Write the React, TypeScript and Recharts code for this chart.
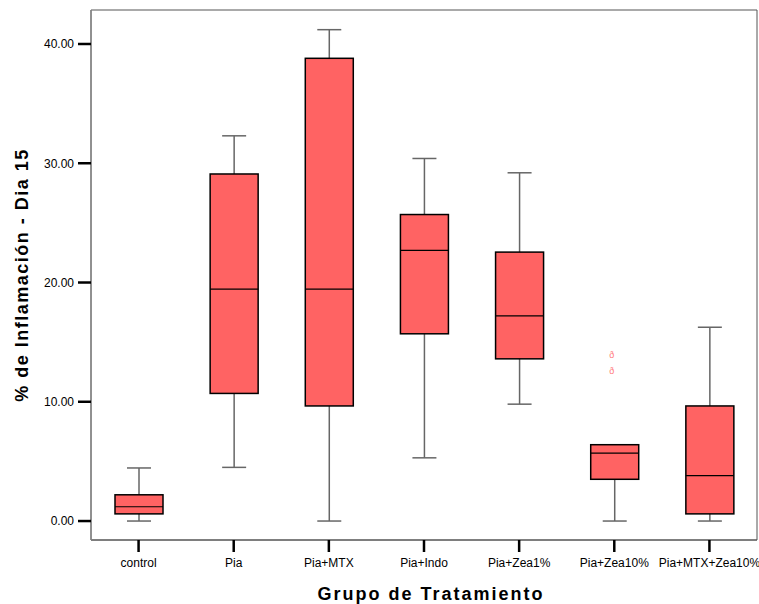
import React from 'react';
import { ComposedChart, Bar, XAxis, YAxis, ReferenceArea } from 'recharts';

const groups = ['control', 'Pia', 'Pia+MTX', 'Pia+Indo', 'Pia+Zea1%', 'Pia+Zea10%', 'Pia+MTX+Zea10%'];
const mins = [0, 4.5, 0, 5.3, 9.8, 0, 0];
const q1s = [0.6, 10.7, 9.65, 15.7, 13.6, 3.5, 0.6];
const medians = [1.2, 19.45, 19.45, 22.7, 17.2, 5.7, 3.8];
const q3s = [2.2, 29.1, 38.8, 25.7, 22.55, 6.4, 9.65];
const maxs = [4.45, 32.3, 41.2, 30.4, 29.2, 6.4, 16.25];
const outlierGroups = ['Pia+Zea10%', 'Pia+Zea10%'];
const outlierValues = [13.9, 12.6];
const yTicks = [0, 10, 20, 30, 40];
const yDomain = [-1.59, 42.85];

const data = groups.map((g, i) => ({
  grp: g,
  min: mins[i],
  q1: q1s[i],
  median: medians[i],
  q3: q3s[i],
  max: maxs[i],
  outliers: outlierValues.filter((_, j) => outlierGroups[j] === g),
}));

const FILL = '#FF6363';
const WHISKER = '#666666';

const BoxShape = (props: any) => {
  const { x, y, width, height, payload } = props;
  const { min, q1, median, q3, max, outliers } = payload;
  const k = height / (max - min);
  const toY = (v: number) => y + (max - v) * k;
  const cx = x + width / 2;
  const capW = 24;
  const yMin = toY(min);
  const yMax = toY(max);
  const yQ1 = toY(q1);
  const yQ3 = toY(q3);
  const yMed = toY(median);
  return (
    <g>
      <line x1={cx} x2={cx} y1={yMax} y2={yQ3} stroke={WHISKER} strokeWidth={1.5} />
      <line x1={cx} x2={cx} y1={yQ1} y2={yMin} stroke={WHISKER} strokeWidth={1.5} />
      {max > q3 && (
        <line x1={cx - capW / 2} x2={cx + capW / 2} y1={yMax} y2={yMax} stroke={WHISKER} strokeWidth={1.5} />
      )}
      <line x1={cx - capW / 2} x2={cx + capW / 2} y1={yMin} y2={yMin} stroke={WHISKER} strokeWidth={1.5} />
      <rect x={x} y={yQ3} width={width} height={yQ1 - yQ3} fill={FILL} stroke="#000" strokeWidth={1.5} />
      <line x1={x} x2={x + width} y1={yMed} y2={yMed} stroke="#000" strokeWidth={1.2} />
      {(outliers as number[]).map((v, j) => (
        <text
          key={j}
          x={cx - 3}
          y={toY(v)}
          textAnchor="middle"
          dominantBaseline="central"
          fontSize={9}
          fill="#FF8080"
          fontFamily="Arial, 'Liberation Sans', sans-serif"
        >
          ð
        </text>
      ))}
    </g>
  );
};

export default function App() {
  return (
    <div style={{ position: 'absolute', left: 0, top: 0, width: 759, height: 604, background: '#fff' }}>
      <ComposedChart
        width={759}
        height={604}
        data={data}
        margin={{ top: 10, right: 2, bottom: 0, left: 0 }}
        style={{ fontFamily: 'Arial, "Liberation Sans", sans-serif' }}
      >
        <XAxis
          dataKey="grp"
          type="category"
          height={64}
          tickSize={12}
          tickMargin={6}
          interval={0}
          axisLine={{ stroke: '#555', strokeWidth: 1 }}
          tickLine={{ stroke: '#000', strokeWidth: 2.5 }}
          tick={{ fill: '#000', fontSize: 12 }}
          label={{
            value: 'Grupo de Tratamiento',
            position: 'insideBottom',
            offset: 4,
            dx: 7,
            style: { fontSize: 18, fontWeight: 'bold', fill: '#000', letterSpacing: 2 },
          }}
        />
        <YAxis
          type="number"
          domain={yDomain}
          ticks={yTicks}
          width={91}
          tickSize={13}
          tickMargin={4}
          tickFormatter={(v: number) => v.toFixed(2)}
          axisLine={{ stroke: '#888', strokeWidth: 1.5 }}
          tickLine={{ stroke: '#000', strokeWidth: 2.5 }}
          tick={{ fill: '#000', fontSize: 12 }}
          allowDataOverflow
          label={{
            value: '% de Inflamación - Dia 15',
            angle: -90,
            position: 'insideLeft',
            offset: 22,
            style: { textAnchor: 'middle', fontSize: 18, fontWeight: 'bold', fill: '#000', letterSpacing: 1.5 },
          }}
        />
        <ReferenceArea y1={yDomain[0]} y2={yDomain[1]} fill="none" stroke="#555" strokeWidth={1} ifOverflow="visible" />
        <Bar
          dataKey={(d: any) => [d.min, d.max]}
          barSize={48}
          shape={BoxShape}
          isAnimationActive={false}
        />
      </ComposedChart>
    </div>
  );
}
